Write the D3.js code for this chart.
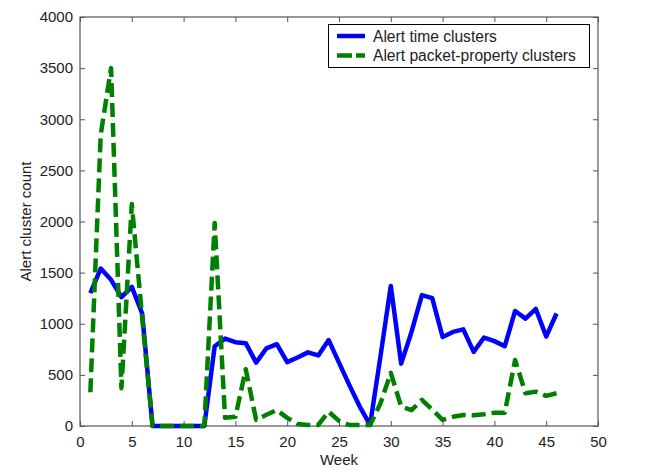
<!DOCTYPE html>
<html>
<head>
<meta charset="utf-8">
<script src="https://cdn.jsdelivr.net/npm/d3@7"></script>
<style>
  html, body { margin: 0; padding: 0; background: #fff; }
  svg { display: block; }
  text { font-family: Arial, "Liberation Sans", sans-serif; fill: #222; }
</style>
</head>
<body>
<svg id="chart" width="658" height="472"></svg>
<script>
const weeks = d3.range(1, 47);
const timeClusters = [1300, 1540, 1430, 1260, 1360, 1100, 0, 0, 0, 0,
  0, 0, 780, 855, 820, 810, 620, 760, 800, 625,
  670, 720, 690, 840, 620, 400, 190, 10, 680, 1370,
  610, 920, 1280, 1250, 870, 920, 945, 725, 865, 830,
  780, 1125, 1050, 1145, 875, 1100];
const packetClusters = [330, 2850, 3500, 370, 2170, 1060, 0, 0, 0, 0,
  0, 0, 1985, 80, 90, 555, 60, 110, 155, 80,
  20, 10, 10, 140, 50, 10, 10, 10, 220, 520,
  190, 155, 255, 160, 60, 90, 108, 105, 115, 130,
  130, 645, 320, 336, 295, 320];
const xTicks = d3.range(0, 51, 5);
const yTicks = d3.range(0, 4001, 500);
const seriesNames = ["Alert time clusters", "Alert packet-property clusters"];
const xLabel = "Week";
const yLabel = "Alert cluster count";

const svg = d3.select("#chart");
const L = 80, R = 598, T = 17, B = 426;
const x = d3.scaleLinear().domain([0, 50]).range([L, R]);
const y = d3.scaleLinear().domain([0, 4000]).range([B, T]);
const frameColor = "#555";
const fs = 15;
const fmt = d3.format("d");

// axes
const gB = svg.append("g").attr("transform", `translate(0,${B})`)
  .call(d3.axisBottom(x).tickValues(xTicks).tickFormat(fmt).tickSizeInner(-5).tickSizeOuter(0).tickPadding(10));
const gL = svg.append("g").attr("transform", `translate(${L},0)`)
  .call(d3.axisLeft(y).tickValues(yTicks).tickFormat(fmt).tickSizeInner(-5).tickSizeOuter(0).tickPadding(7));
const gT = svg.append("g").attr("transform", `translate(0,${T})`)
  .call(d3.axisTop(x).tickValues(xTicks).tickSizeInner(-5).tickSizeOuter(0).tickFormat(""));
const gR = svg.append("g").attr("transform", `translate(${R},0)`)
  .call(d3.axisRight(y).tickValues(yTicks).tickSizeInner(-5).tickSizeOuter(0).tickFormat(""));
[gB, gL, gT, gR].forEach(g => {
  g.select(".domain").remove();
  g.selectAll("line").attr("stroke", frameColor);
  g.selectAll("text").attr("font-size", fs).attr("font-family", "Arial, 'Liberation Sans', sans-serif").attr("fill", "#222");
});
svg.append("rect").attr("x", L).attr("y", T).attr("width", R - L).attr("height", B - T)
  .attr("fill", "none").attr("stroke", frameColor).attr("stroke-width", 1.2);

// lines
const line = d3.line().x((d, i) => x(weeks[i])).y(d => y(d));
svg.append("path").datum(timeClusters).attr("d", line)
  .attr("fill", "none").attr("stroke", "#0000ff").attr("stroke-width", 4.5)
  .attr("stroke-linejoin", "round");
svg.append("path").datum(packetClusters).attr("d", line)
  .attr("fill", "none").attr("stroke", "#008000").attr("stroke-width", 4.5)
  .attr("stroke-dasharray", "14,6").attr("stroke-linejoin", "round");

// axis labels
svg.append("text").attr("x", (L + R) / 2).attr("y", 465).attr("text-anchor", "middle")
  .attr("font-size", fs).text(xLabel);
svg.append("text").attr("transform", `translate(31,${(T + B) / 2}) rotate(-90)`)
  .attr("text-anchor", "middle").attr("font-size", fs).text(yLabel);

// legend
const lg = svg.append("g");
lg.append("rect").attr("x", 328.5).attr("y", 24.5).attr("width", 261).attr("height", 43)
  .attr("fill", "#fff").attr("stroke", "#000").attr("stroke-width", 1);
const colors = ["#0000ff", "#008000"];
const dashes = [null, "15,4"];
seriesNames.forEach((name, i) => {
  const yy = 36 + i * 19.5;
  lg.append("line").attr("x1", 337).attr("x2", 365).attr("y1", yy).attr("y2", yy)
    .attr("stroke", colors[i]).attr("stroke-width", 4.5).attr("stroke-dasharray", dashes[i]);
  lg.append("text").attr("x", 373).attr("y", yy + 5.5).attr("font-size", 15.6).text(name);
});
</script>
</body>
</html>
